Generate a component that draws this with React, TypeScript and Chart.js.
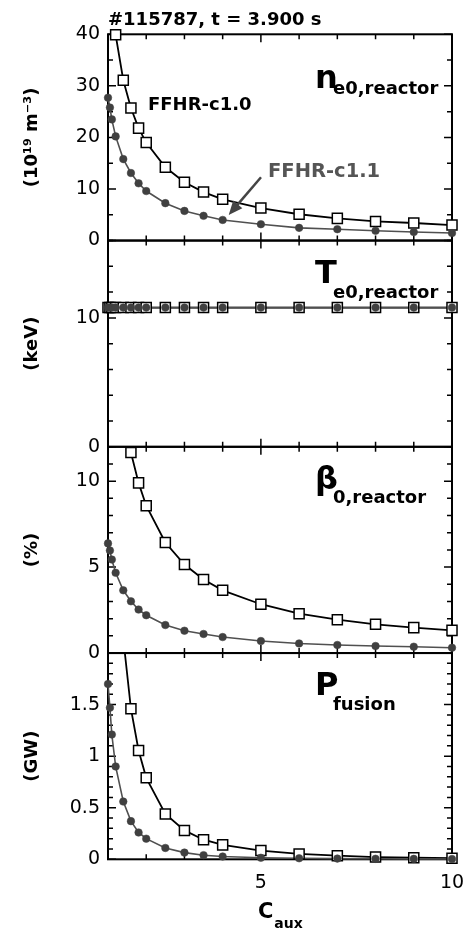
import React, { useEffect, useRef } from "react";
import { Chart, registerables } from "chart.js";

Chart.register(...registerables);

// ---------- data ----------
const cAux = [1, 1.05, 1.1, 1.2, 1.4, 1.6, 1.8, 2, 2.5, 3, 3.5, 4, 5, 6, 7, 8, 9, 10];

const neC10 = [null, null, null, 39.9, 31.1, 25.7, 21.8, 19.0, 14.2, 11.3, 9.4, 8.0, 6.3, 5.1, 4.3, 3.7, 3.4, 3.0];
const neC11 = [27.7, 25.8, 23.5, 20.2, 15.8, 13.1, 11.1, 9.6, 7.25, 5.75, 4.8, 4.0, 3.17, 2.46, 2.2, 1.9, 1.65, 1.45];

const teC10 = [10.8, 10.8, 10.8, 10.8, 10.8, 10.8, 10.8, 10.8, 10.8, 10.8, 10.8, 10.8, 10.8, 10.8, 10.8, 10.8, 10.8, 10.8];
const teC11 = [10.8, 10.8, 10.8, 10.8, 10.8, 10.8, 10.8, 10.8, 10.8, 10.8, 10.8, 10.8, 10.8, 10.8, 10.8, 10.8, 10.8, 10.8];

const betaC10 = [null, null, null, null, 14.1, 11.67, 9.9, 8.57, 6.43, 5.15, 4.28, 3.65, 2.84, 2.29, 1.94, 1.67, 1.48, 1.32];
const betaC11 = [6.38, 5.97, 5.44, 4.67, 3.65, 3.01, 2.53, 2.2, 1.63, 1.3, 1.11, 0.93, 0.7, 0.56, 0.47, 0.41, 0.37, 0.31];

const pfC10 = [null, null, null, null, 2.14, 1.46, 1.055, 0.79, 0.44, 0.28, 0.19, 0.14, 0.085, 0.052, 0.035, 0.022, 0.015, 0.01];
const pfC11 = [1.7, 1.47, 1.21, 0.9, 0.56, 0.37, 0.26, 0.2, 0.11, 0.065, 0.04, 0.027, 0.015, 0.01, 0.007, 0.005, 0.004, 0.003];

const xTickLabels = [5, 10];
const neTicks = [0, 10, 20, 30, 40];
const teTicks = [0, 10];
const betaTicks = [0, 5, 10];
const pfTicks = [0, 0.5, 1, 1.5];

const titleText = "#115787, t = 3.900 s";
const seriesNames = ["FFHR-c1.0", "FFHR-c1.1"];

// ---------- layout ----------
const W = 469;
const H = 934;
const PLOT_LEFT = 108;
const PLOT_RIGHT = 452;
const BOUNDS = [34.3, 240.55, 446.8, 653.05, 859.3];
const FONT = '"DejaVu Sans", "Liberation Sans", sans-serif';
const GRAY = "#404040";
const LINE_GRAY = "#505050";

type Panel = {
  c10: (number | null)[];
  c11: (number | null)[];
  min: number;
  max: number;
  labels: number[];
  minor: number;
  major: number;
  yTitle: string;
  main: string;
  sub: string;
  mainDy: number;
  subDy: number;
};

const panels: Panel[] = [
  { c10: neC10, c11: neC11, min: 0, max: 40, labels: neTicks, minor: 5, major: 10, yTitle: "(10¹⁹ m⁻³)", main: "n", sub: "e0,reactor", mainDy: 53.7, subDy: 59.7 },
  { c10: teC10, c11: teC11, min: 0, max: 16, labels: teTicks, minor: 2, major: 10, yTitle: "(keV)", main: "T", sub: "e0,reactor", mainDy: 42.5, subDy: 57.5 },
  { c10: betaC10, c11: betaC11, min: 0, max: 12, labels: betaTicks, minor: 1, major: 5, yTitle: "(%)", main: "β", sub: "0,reactor", mainDy: 42.5, subDy: 56.5 },
  { c10: pfC10, c11: pfC11, min: 0, max: 2, labels: pfTicks, minor: 0.1, major: 0.5, yTitle: "(GW)", main: "P", sub: "fusion", mainDy: 42, subDy: 57 },
];

function framePlugin() {
  return {
    id: "frame",
    beforeDatasetsDraw(chart: any) {
      const { ctx, chartArea } = chart;
      const { left, right, top, bottom } = chartArea;
      const xs = chart.scales.x;
      const ys = chart.scales.y;
      const o = ys.options;
      const mn = o.min, mx = o.max, minor = o.minorStep, major = o.majorStep;
      ctx.save();
      ctx.strokeStyle = "#000";
      ctx.lineWidth = 1.5;
      ctx.beginPath();
      for (let v = 1; v <= 10; v++) {
        const px = xs.getPixelForValue(v);
        const len = v % 5 === 0 ? 8 : 5;
        ctx.moveTo(px, bottom);
        ctx.lineTo(px, bottom - len);
        ctx.moveTo(px, top);
        ctx.lineTo(px, top + len);
      }
      const n = Math.round((mx - mn) / minor);
      for (let k = 0; k <= n; k++) {
        const v = mn + k * minor;
        const r = v / major;
        const isMajor = Math.abs(r - Math.round(r)) < 1e-6;
        const py = ys.getPixelForValue(v);
        const len = isMajor ? 8 : 5;
        ctx.moveTo(left, py);
        ctx.lineTo(left + len, py);
        ctx.moveTo(right, py);
        ctx.lineTo(right - len, py);
      }
      ctx.stroke();
      ctx.lineWidth = 2;
      ctx.strokeRect(left, top, right - left, bottom - top);
      ctx.restore();
    },
  };
}

function decoPlugin(idx: number) {
  const p = panels[idx];
  return {
    id: "deco",
    afterDraw(chart: any) {
      const { ctx, chartArea } = chart;
      const { left, top, bottom } = chartArea;
      const xs = chart.scales.x;
      const ys = chart.scales.y;
      ctx.save();
      ctx.fillStyle = "#000";
      ctx.textBaseline = "alphabetic";
      ctx.textAlign = "left";
      // panel label
      ctx.font = `bold 32px ${FONT}`;
      ctx.fillText(p.main, 315, top + p.mainDy);
      ctx.font = `bold 18px ${FONT}`;
      ctx.fillText(p.sub, 333, top + p.subDy);
      if (idx === 0) {
        ctx.font = `bold 18px ${FONT}`;
        ctx.fillText(titleText, left, top - 9.3);
        ctx.fillText(seriesNames[0], 148, top + 75.7);
        ctx.fillStyle = "#555";
        ctx.font = `bold 19.5px ${FONT}`;
        ctx.fillText(seriesNames[1], 268, top + 142.7);
        // arrow towards FFHR-c1.1 curve at C_aux = 4
        const tx = xs.getPixelForValue(4) + 6;
        const ty = ys.getPixelForValue(neC11[11] as number) - 5;
        const sx = 261, sy = top + 143;
        const ang = Math.atan2(ty - sy, tx - sx);
        ctx.strokeStyle = "#444";
        ctx.fillStyle = "#444";
        ctx.lineWidth = 2.5;
        ctx.beginPath();
        ctx.moveTo(sx, sy);
        ctx.lineTo(tx - 10 * Math.cos(ang), ty - 10 * Math.sin(ang));
        ctx.stroke();
        ctx.beginPath();
        ctx.moveTo(tx, ty);
        ctx.lineTo(tx - 14 * Math.cos(ang) + 6 * Math.sin(ang), ty - 14 * Math.sin(ang) - 6 * Math.cos(ang));
        ctx.lineTo(tx - 14 * Math.cos(ang) - 6 * Math.sin(ang), ty - 14 * Math.sin(ang) + 6 * Math.cos(ang));
        ctx.closePath();
        ctx.fill();
      }
      if (idx === 3) {
        const cx = xs.getPixelForValue(5) - 3;
        ctx.fillStyle = "#000";
        ctx.font = `bold 21px ${FONT}`;
        ctx.fillText("C", cx, bottom + 58.7);
        const w = ctx.measureText("C").width;
        ctx.font = `bold 14px ${FONT}`;
        ctx.fillText("aux", cx + w + 1, bottom + 68.7);
      }
      ctx.restore();
    },
  };
}

function makeConfig(idx: number, padTop: number, padBottom: number, xAxisH: number) {
  const p = panels[idx];
  const pts = (arr: (number | null)[]) => cAux.map((x, i) => ({ x, y: arr[i] }));
  const hideOut = (r: number) => (c: any) => {
    const v = c.raw ? c.raw.y : null;
    return v == null || v > p.max || v < p.min ? 0 : r;
  };
  const datasets: any[] = [
    {
      label: seriesNames[1] + " points",
      data: pts(p.c11),
      showLine: false,
      pointStyle: "circle",
      pointRadius: hideOut(3.8),
      pointBackgroundColor: GRAY,
      pointBorderColor: GRAY,
      pointBorderWidth: 0.5,
      clip: false,
    },
    {
      label: seriesNames[0] + " points",
      data: pts(p.c10),
      showLine: false,
      pointStyle: "rect",
      pointRadius: hideOut(7.1),
      pointBackgroundColor: "#fff",
      pointBorderColor: "#000",
      pointBorderWidth: 1.5,
      clip: false,
    },
    {
      label: seriesNames[1] + " line",
      data: pts(p.c11),
      borderColor: LINE_GRAY,
      borderWidth: 1.6,
      pointRadius: 0,
      tension: 0,
      clip: { left: 2, right: 2, top: 0, bottom: 2 },
    },
    {
      label: seriesNames[0] + " line",
      data: pts(p.c10),
      borderColor: "#000",
      borderWidth: 1.8,
      pointRadius: 0,
      tension: 0,
      clip: { left: 2, right: 2, top: 0, bottom: 2 },
    },
  ];
  return {
    type: "line",
    data: { datasets },
    options: {
      responsive: false,
      animation: false,
      events: [],
      layout: { padding: { left: 0, right: W - PLOT_RIGHT, top: padTop, bottom: padBottom } },
      plugins: { legend: { display: false }, tooltip: { enabled: false }, title: { display: false } },
      scales: {
        x: {
          type: "linear",
          min: 1,
          max: 10,
          display: idx === 3,
          afterBuildTicks: (s: any) => {
            s.ticks = xTickLabels.map((v) => ({ value: v }));
          },
          afterFit: (s: any) => {
            s.height = xAxisH;
            s.paddingLeft = 0;
            s.paddingRight = 0;
          },
          grid: { display: false, drawTicks: false },
          border: { display: false },
          ticks: {
            font: { family: FONT, size: 19 },
            color: "#000",
            padding: 12,
            maxRotation: 0,
            autoSkip: false,
            callback: (v: any) => String(v),
          },
        },
        y: {
          type: "linear",
          min: p.min,
          max: p.max,
          minorStep: p.minor,
          majorStep: p.major,
          afterBuildTicks: (s: any) => {
            s.ticks = p.labels.map((v) => ({ value: v }));
          },
          afterFit: (s: any) => {
            s.width = PLOT_LEFT;
            s.paddingTop = 0;
            s.paddingBottom = 0;
          },
          grid: { display: false, drawTicks: false },
          border: { display: false },
          ticks: {
            font: { family: FONT, size: 19 },
            color: "#000",
            padding: 8,
            autoSkip: false,
            callback: (v: any) => String(v),
          },
          title: {
            display: true,
            text: p.yTitle,
            color: "#000",
            font: { family: FONT, size: 18, weight: "bold" },
            padding: { top: 22, bottom: 0 },
          },
        },
      },
    },
    plugins: [framePlugin(), decoPlugin(idx)],
  };
}

function geometry(idx: number) {
  const canvasTop = idx === 0 ? 0 : Math.floor(BOUNDS[idx]) - 30;
  const canvasBottom = idx === 3 ? H : Math.ceil(BOUNDS[idx + 1]) + 30;
  const padTop = BOUNDS[idx] - canvasTop;
  const padBottom = idx === 3 ? 0 : canvasBottom - BOUNDS[idx + 1];
  const xAxisH = idx === 3 ? canvasBottom - BOUNDS[4] : 0;
  return { canvasTop, height: canvasBottom - canvasTop, padTop, padBottom, xAxisH };
}

export default function App() {
  const refs = [useRef<HTMLCanvasElement>(null), useRef<HTMLCanvasElement>(null), useRef<HTMLCanvasElement>(null), useRef<HTMLCanvasElement>(null)];
  useEffect(() => {
    const charts: Chart[] = [];
    refs.forEach((r, i) => {
      if (!r.current) return;
      const g = geometry(i);
      charts.push(new Chart(r.current, makeConfig(i, g.padTop, g.padBottom, g.xAxisH) as any));
    });
    return () => charts.forEach((c) => c.destroy());
  }, []);
  return (
    <div style={{ position: "fixed", left: 0, top: 0, width: W, height: H, background: "#fff" }}>
      {refs.map((r, i) => {
        const g = geometry(i);
        return (
          <canvas
            key={i}
            ref={r}
            width={W}
            height={g.height}
            style={{ position: "absolute", left: 0, top: g.canvasTop, width: W, height: g.height }}
          />
        );
      })}
    </div>
  );
}
